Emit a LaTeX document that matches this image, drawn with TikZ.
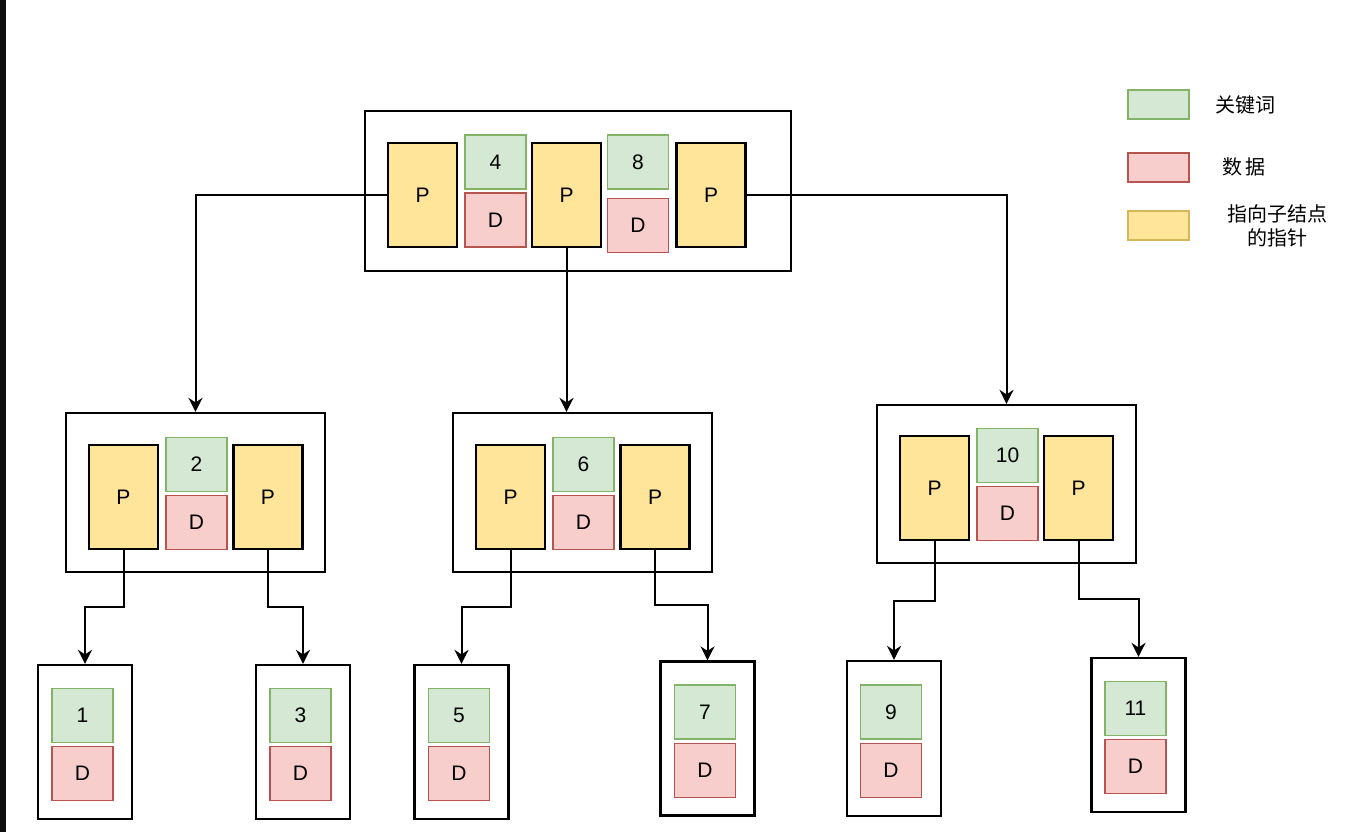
\documentclass[tikz,border=0pt]{standalone}
\usepackage{fontspec}
\setmainfont{Liberation Sans}
\newfontfamily\cjk{Noto Sans CJK SC}
\usetikzlibrary{arrows.meta,calc}
\definecolor{kfill}{HTML}{D5E8D4}
\definecolor{kline}{HTML}{82B366}
\definecolor{dfill}{HTML}{F8CECC}
\definecolor{dline}{HTML}{B85450}
\definecolor{pfill}{HTML}{FFE599}
\definecolor{pline}{HTML}{D6B656}
\definecolor{stripblack}{HTML}{0F0F0F}
\tikzset{
  txt/.style={font=\fontsize{21}{25}\selectfont},
  frame/.style={draw=black, line width=2.2pt, inner sep=0pt, fill=white},
  pbox/.style={draw=black, fill=pfill, line width=2.2pt, inner sep=0pt, minimum width=69pt, minimum height=104pt, txt},
  kbox/.style={draw=kline, fill=kfill, line width=1.8pt, inner sep=0pt, minimum width=61pt, minimum height=54pt, txt},
  dbox/.style={draw=dline, fill=dfill, line width=1.8pt, inner sep=0pt, minimum width=61pt, minimum height=54pt, txt},
  legk/.style={draw=kline, fill=kfill, line width=1.8pt, inner sep=0pt, minimum width=61pt, minimum height=29pt},
  legd/.style={draw=dline, fill=dfill, line width=1.8pt, inner sep=0pt, minimum width=61pt, minimum height=29pt},
  legp/.style={draw=pline, fill=pfill, line width=1.8pt, inner sep=0pt, minimum width=61pt, minimum height=29pt},
  legtxt/.style={font=\cjk\fontsize{20}{24}\selectfont, align=center, inner sep=0pt},
  arr/.style={draw=black, line width=2pt, -{Stealth[length=14pt,width=14pt,inset=4.5pt]}},
}
\begin{document}
\begin{tikzpicture}[x=1pt,y=-1pt]
\useasboundingbox (0,0) rectangle (1350,832);
\fill[stripblack] (0,0) rectangle (6,832);

% root
\node[frame, minimum width=426pt, minimum height=160pt] (root) at (578,191) {};
\node[pbox] (r1) at (422.5,195) {P};
\node[kbox] (rk4) at (495.5,162) {4};
\node[dbox] (rd4) at (495.5,220) {D};
\node[pbox] (r2) at (566.5,195) {P};
\node[kbox] (rk8) at (638,162) {8};
\node[dbox] (rd8) at (638,225.5) {D};
\node[pbox] (r3) at (711,195) {P};

% child 1
\node[frame, minimum width=259pt, minimum height=159pt] (c1) at (195.5,492.5) {};
\node[pbox] (c1a) at (123.5,497) {P};
\node[kbox] (c1k) at (196.5,464.5) {2};
\node[dbox] (c1d) at (196.5,522.5) {D};
\node[pbox] (c1b) at (268,497) {P};

% child 2
\node[frame, minimum width=259pt, minimum height=159pt] (c2) at (582.5,492.5) {};
\node[pbox] (c2a) at (510.5,497) {P};
\node[kbox] (c2k) at (583.5,464.5) {6};
\node[dbox] (c2d) at (583.5,522.5) {D};
\node[pbox] (c2b) at (655,497) {P};

% child 3
\node[frame, minimum width=259pt, minimum height=158pt] (c3) at (1006.5,484) {};
\node[pbox] (c3a) at (934.5,488) {P};
\node[kbox] (c3k) at (1007.5,455.5) {10};
\node[dbox] (c3d) at (1007.5,513.5) {D};
\node[pbox] (c3b) at (1078.5,488) {P};

% leaves
\node[frame, minimum width=94pt, minimum height=154pt] (l1) at (85,742) {};
\node[kbox] (l1k) at (82.5,715.5) {1};
\node[dbox] (l1d) at (82.5,773.5) {D};

\node[frame, minimum width=94pt, minimum height=154pt] (l3) at (303,742) {};
\node[kbox] (l3k) at (300.5,715.5) {3};
\node[dbox] (l3d) at (300.5,773.5) {D};

\node[frame, minimum width=94pt, minimum height=154pt] (l5) at (461.5,742) {};
\node[kbox] (l5k) at (459,715.5) {5};
\node[dbox] (l5d) at (459,773.5) {D};

\node[frame, minimum width=94pt, minimum height=154pt] (l7) at (707.5,738.5) {};
\node[kbox] (l7k) at (705,712) {7};
\node[dbox] (l7d) at (705,770.5) {D};

\node[frame, minimum width=94pt, minimum height=155pt] (l9) at (894,738.5) {};
\node[kbox] (l9k) at (891,712) {9};
\node[dbox] (l9d) at (891,770.5) {D};

\node[frame, minimum width=94pt, minimum height=154pt] (l11) at (1138.5,735) {};
\node[kbox] (l11k) at (1135.5,708.5) {11};
\node[dbox] (l11d) at (1135.5,766.5) {D};

% connectors root -> children
\draw[arr] (r1.west) -| (c1.north);
\draw[arr] (r2.south) -- (r2.south |- c2.north);
\draw[arr] (r3.east) -| (c3.north);

% connectors children -> leaves
\draw[arr] (c1a.south) |- ($(c1a.south)!0.5!(l1.north)$) -| (l1.north);
\draw[arr] (c1b.south) |- ($(c1b.south)!0.5!(l3.north)$) -| (l3.north);
\draw[arr] (c2a.south) |- ($(c2a.south)!0.5!(l5.north)$) -| (l5.north);
\draw[arr] (c2b.south) |- ($(c2b.south)!0.5!(l7.north)$) -| (l7.north);
\draw[arr] (c3a.south) |- ($(c3a.south)!0.5!(l9.north)$) -| (l9.north);
\draw[arr] (c3b.south) |- ($(c3b.south)!0.5!(l11.north)$) -| (l11.north);

% legend
\node[legk] (lgk) at (1158.5,104.5) {};
\node[legd] (lgd) at (1158.5,167.5) {};
\node[legp] (lgp) at (1158.5,225.5) {};
\node[legtxt] (lgkt) at (1245,105) {关键词};
\node[legtxt] (lgdt) at (1244,167) {数\,据};
\node[legtxt] (lgpt) at (1277,226) {指向子结点\\的指针};
\end{tikzpicture}
\end{document}
